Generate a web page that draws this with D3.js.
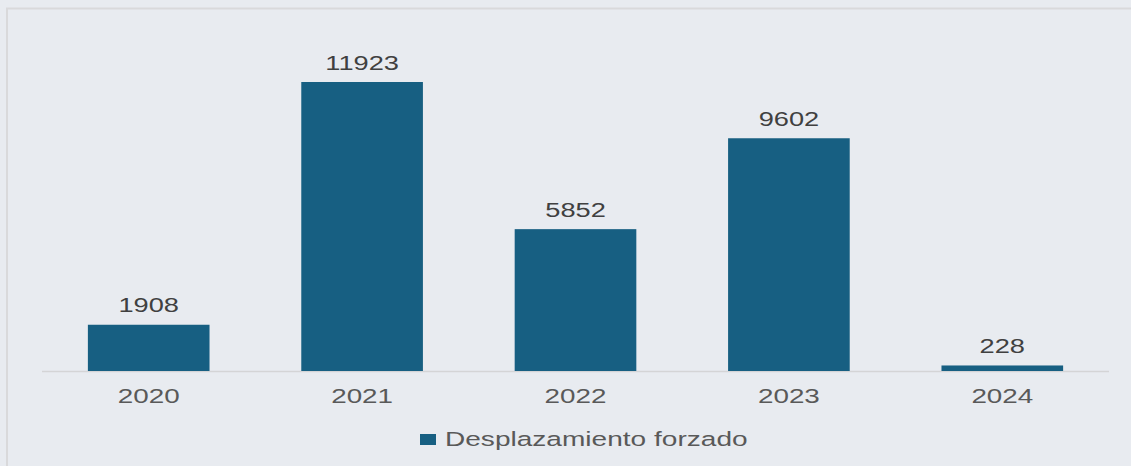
<!DOCTYPE html>
<html lang="es">
    <head>
        <meta charset="UTF-8" />
        <title>Desplazamiento forzado</title>
        <style>
            body{
              margin: 0;
              background: #e8ebf0;
            }
            .chart{
              width: 1131px;
              height: 466px;
            }
        </style>
    </head>
    <body>
        <div class="chart"></div>

        <script src="https://d3js.org/d3.v7.min.js"></script>

        <script>
            const years = ['2020', '2021', '2022', '2023', '2024']
            const values = [1908, 11923, 5852, 9602, 228]
            const seriesName = 'Desplazamiento forzado'

            const width = 1131
            const height = 466
            const barColor = '#175f82'
            const font = '"Liberation Sans", Arial, sans-serif'
            // el texto de la imagen original está estirado en horizontal
            const stretch = 1.36

            const svg = d3.select('.chart')
              .append('svg')
              .attr('width', width)
              .attr('height', height)

            // fondo y marco
            svg.append('rect')
              .attr('width', width)
              .attr('height', height)
              .attr('fill', '#e8ebf0')

            svg.append('path')
              .attr('d', `M7,${height + 2} V8.5 H${width + 2}`)
              .attr('fill', 'none')
              .attr('stroke', '#d9d9db')
              .attr('stroke-width', 2)

            const baseY = 371
            const xScale = d3.scaleBand()
              .domain(years)
              .range([42, 1109])
              .paddingInner(0.43)
              .paddingOuter(0.215)

            const yScale = d3.scaleLinear()
              .domain([0, 11923])
              .range([baseY, 82])

            // línea base
            svg.append('line')
              .attr('x1', 42)
              .attr('x2', 1109)
              .attr('y1', baseY + 0.5)
              .attr('y2', baseY + 0.5)
              .attr('stroke', '#d4d4d6')
              .attr('stroke-width', 1.5)

            const rows = years.map((y, i) => ({ year: y, value: values[i] }))

            svg.append('g')
              .selectAll('rect')
              .data(rows)
              .join('rect')
              .attr('x', d => xScale(d.year))
              .attr('y', d => yScale(d.value))
              .attr('width', xScale.bandwidth())
              .attr('height', d => baseY - yScale(d.value))
              .attr('fill', barColor)

            // etiquetas de valor
            svg.append('g')
              .selectAll('text')
              .data(rows)
              .join('text')
              .attr('transform', d => `translate(${xScale(d.year) + xScale.bandwidth() / 2}, ${yScale(d.value) - 12.5}) scale(${stretch}, 1)`)
              .attr('text-anchor', 'middle')
              .style('font-family', font)
              .style('font-size', '20px')
              .style('fill', '#404040')
              .text(d => d.value)

            // eje x
            const xAxis = d3.axisBottom(xScale).tickSize(0).tickPadding(0)
            const xAxisGroup = svg.append('g')
              .attr('transform', `translate(0, ${baseY})`)
              .call(xAxis)
            xAxisGroup.select('.domain').remove()
            xAxisGroup.selectAll('text')
              .attr('y', null)
              .attr('dy', null)
              .attr('transform', `translate(0, 31.5) scale(${stretch + 0.03}, 1)`)
              .style('font-family', font)
              .style('font-size', '20px')
              .style('fill', '#595959')

            // leyenda
            const legend = svg.append('g')
            legend.append('rect')
              .attr('x', 420)
              .attr('y', 434)
              .attr('width', 16)
              .attr('height', 11)
              .attr('fill', barColor)
            legend.append('text')
              .attr('transform', `translate(445, 446) scale(1.44, 1)`)
              .style('font-family', font)
              .style('font-size', '19.5px')
              .style('fill', '#595959')
              .text(seriesName)
        </script>
    </body>
</html>
